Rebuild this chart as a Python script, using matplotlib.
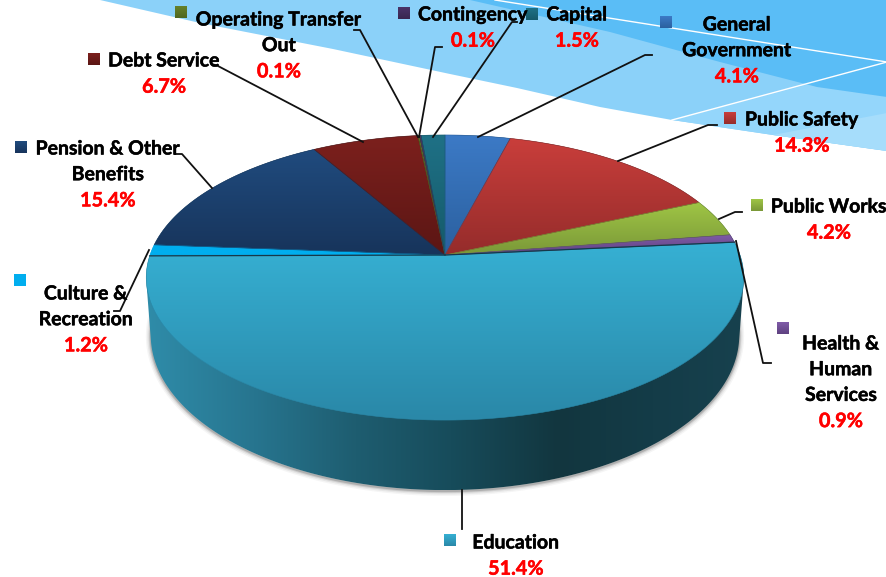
import numpy as np
import matplotlib
matplotlib.use("Agg")
import matplotlib.pyplot as plt
import matplotlib.patheffects as pe
from matplotlib.patches import Polygon
from matplotlib.colors import LinearSegmentedColormap, to_rgb

# ---- data ----
categories = ["General\nGovernment", "Public Safety", "Public Works",
              "Health &\nHuman\nServices", "Education", "Culture &\nRecreation",
              "Pension & Other\nBenefits", "Debt Service",
              "Operating Transfer\nOut", "Contingency", "Capital"]
shares = [4.1, 14.3, 4.2, 0.9, 51.4, 1.2, 15.4, 6.7, 0.1, 0.1, 1.5]

# ---- styles ----
color_top = ["#3c7ac6", "#c93e3b", "#9fc545", "#805ca8", "#36b0d3", "#00aeef",
             "#204b7e", "#7c201d", "#66812a", "#4a3468", "#1f7186"]
color_bot = ["#2b609f", "#952c2b", "#7a9838", "#5e4180", "#2a88a8", "#00aeef",
             "#17345b", "#5b1614", "#4f6620", "#392650", "#155a6a"]
marker_xy = [(666, 22), (730, 118), (757, 205), (783, 328), (450, 540), (20, 280),
             (21, 147), (94, 59), (181, 12), (404, 13), (532, 14)]
label_xy = [(737, 25), (802, 120), (829, 207), (841, 344), (516, 543), (86, 294),
            (108, 149), (164, 61), (279, 20), (473, 15), (577, 15)]
leaders = [[(478, 137), (645, 55), (652, 55)],
           [(618, 161), (708, 125), (717, 125)],
           [(719, 219), (735, 212), (742, 212)],
           [(736, 241), (763, 363), (771, 363)],
           [(462, 490), (462, 529)],
           [(149, 250), (120, 311), (114, 311)],
           [(212, 188), (182, 154), (175, 154)],
           [(363, 142), (218, 66), (212, 64)],
           [(418, 137), (360, 30), (354, 30)],
           [(419, 137), (435, 47), (442, 47)],
           [(433, 137), (512, 22), (517, 22)]]

FONT = "Lato"
FS = 14.0
FS_PCT = 14.3
LINE = 25.7

fig = plt.figure(figsize=(8.87, 5.77), dpi=100)
ax = fig.add_axes([0, 0, 1, 1])
ax.set_axis_off()


def rim(t):
    """Perspective projection of the unit circle, t in radians."""
    k, A, B = 0.158, 295.0, 139.0
    u, v = np.cos(t), np.sin(t)
    w = 1 + k * v
    return np.column_stack([445 + A * u / w, 255 - B * v / w])


def lower(t):
    p = rim(t)
    return np.column_stack([445 + (p[:, 0] - 445) * 0.985,
                            335 + (p[:, 1] - 277.5) * 155 / 142.5])


def hull(pts):
    pts = sorted(map(tuple, pts))
    def half(seq):
        out = []
        for p in seq:
            while len(out) > 1 and ((out[-1][0] - out[-2][0]) * (p[1] - out[-2][1])
                                    - (out[-1][1] - out[-2][1]) * (p[0] - out[-2][0])) <= 0:
                out.pop()
            out.append(p)
        return out[:-1]
    return np.array(half(pts) + half(pts[::-1]))


def grad_fill(poly, top, bot, z):
    """Vertical gradient clipped to a polygon."""
    x0, y0 = poly.min(axis=0)
    x1, y1 = poly.max(axis=0)
    c = np.linspace(to_rgb(top), to_rgb(bot), 64).reshape(64, 1, 3)
    im = ax.imshow(c, extent=(x0, x1, y1, y0), aspect="auto", zorder=z, interpolation="bilinear")
    im.set_clip_path(Polygon(poly, closed=True, transform=ax.transData))


# ---- background swooshes ----
mid = [(100, 0), (200, 23), (333, 49), (450, 74), (517, 88), (600, 107), (672, 120),
       (773, 135), (887, 151), (887, 0)]
dark = [(470, 0), (610, 32), (720, 62), (817, 87), (887, 97), (887, 0)]
ax.add_patch(Polygon(mid, closed=True, fc="#8bd1f9", ec="none", zorder=1))
ax.add_patch(Polygon([(672, 120), (887, 64), (887, 151), (773, 135)], closed=True,
                     fc="#94d6fb", ec="none", zorder=1.1))
ax.add_patch(Polygon(dark, closed=True, fc="#5abdf6", ec="none", zorder=1.2))
ax.add_patch(Polygon([(773, 135), (887, 113), (887, 151)], closed=True,
                     fc="#a6ddfb", ec="none", zorder=1.3))
ax.plot([495, 887], [0, 62], color="white", lw=1.0, zorder=1.5)
ax.plot([672, 887], [120, 62], color="white", lw=1.0, zorder=1.5)

# ---- pie body ----
tt = np.radians(np.linspace(0, 360, 721))
side = hull(np.vstack([rim(tt), lower(tt)]))
front = np.radians(np.linspace(172, 368, 300))
for lw, a in [(7, 0.05), (5, 0.08), (3, 0.14), (1.5, 0.22)]:
    lo = lower(front)
    ax.plot(lo[:, 0], lo[:, 1] + 1, color="#404040", lw=lw, alpha=a, zorder=2, solid_capstyle="round")

side_stops = [(0.0, "#2f8ca9"), (0.18, "#27758f"), (0.35, "#1e5d70"), (0.51, "#174c5b"),
              (0.69, "#12363f"), (0.85, "#143c48"), (1.0, "#17414e")]
side_cmap = LinearSegmentedColormap.from_list("side", side_stops)
im = ax.imshow(np.linspace(0, 1, 256).reshape(1, 256), cmap=side_cmap, vmin=0, vmax=1,
               extent=(146, 744, 490, 135), aspect="auto", zorder=3)
im.set_clip_path(Polygon(side, closed=True, transform=ax.transData))

# ---- pie top, clockwise from 12 o'clock, drawn from the shares ----
total = sum(shares)
start = 0.0
apex = np.array([[445.0, 255.0]])
for i, s in enumerate(shares):
    a0, a1 = start, start + s / total * 360
    start = a1
    t = np.radians(90 - np.linspace(a0, a1, max(int(s * 6), 4)))
    poly = np.vstack([apex, rim(t)])
    grad_fill(poly, color_top[i], color_bot[i], 4 + i * 0.01)
    ax.add_patch(Polygon(poly, closed=True, fc="none", ec=color_bot[i], lw=0.4, zorder=4.5))

# dark seam along the straight edges of the education slice
t_edu0 = np.radians(90 - sum(shares[:4]) * 3.6)
t_edu1 = np.radians(90 - sum(shares[:5]) * 3.6)
for t in (t_edu0, t_edu1):
    p = rim(np.array([t]))[0]
    ax.plot([445, p[0]], [255, p[1]], color="#16384a", lw=0.9, zorder=4.7)

# ---- leaders ----
for pts in leaders:
    xs, ys = zip(*pts)
    ax.plot(xs, ys, color="#111111", lw=1.3, zorder=5, solid_joinstyle="round")

# ---- legend keys and labels ----
for i, name in enumerate(categories):
    mx, my = marker_xy[i]
    sq = np.array([(mx - 6, my - 6), (mx + 6, my - 6), (mx + 6, my + 6), (mx - 6, my + 6)])
    grad_fill(sq, color_top[i], color_bot[i], 6)
    lx, ly = label_xy[i]
    lines = name.split("\n")
    for j, ln in enumerate(lines):
        ax.text(lx, ly + j * LINE, ln, ha="center", va="center", family=FONT, weight="bold",
                fontsize=FS, color="black", zorder=7,
                path_effects=[pe.withStroke(linewidth=0.35, foreground="black")])
    ax.text(lx, ly + len(lines) * LINE, f"{shares[i]:.1f}%", ha="center", va="center",
            family=FONT, weight="bold", fontsize=FS_PCT, color="#ff0000", zorder=7,
            path_effects=[pe.withStroke(linewidth=0.35, foreground="#ff0000")])

ax.set_xlim(0, 887)
ax.set_ylim(577, 0)
fig.savefig("out.png", dpi=100, facecolor="white")
